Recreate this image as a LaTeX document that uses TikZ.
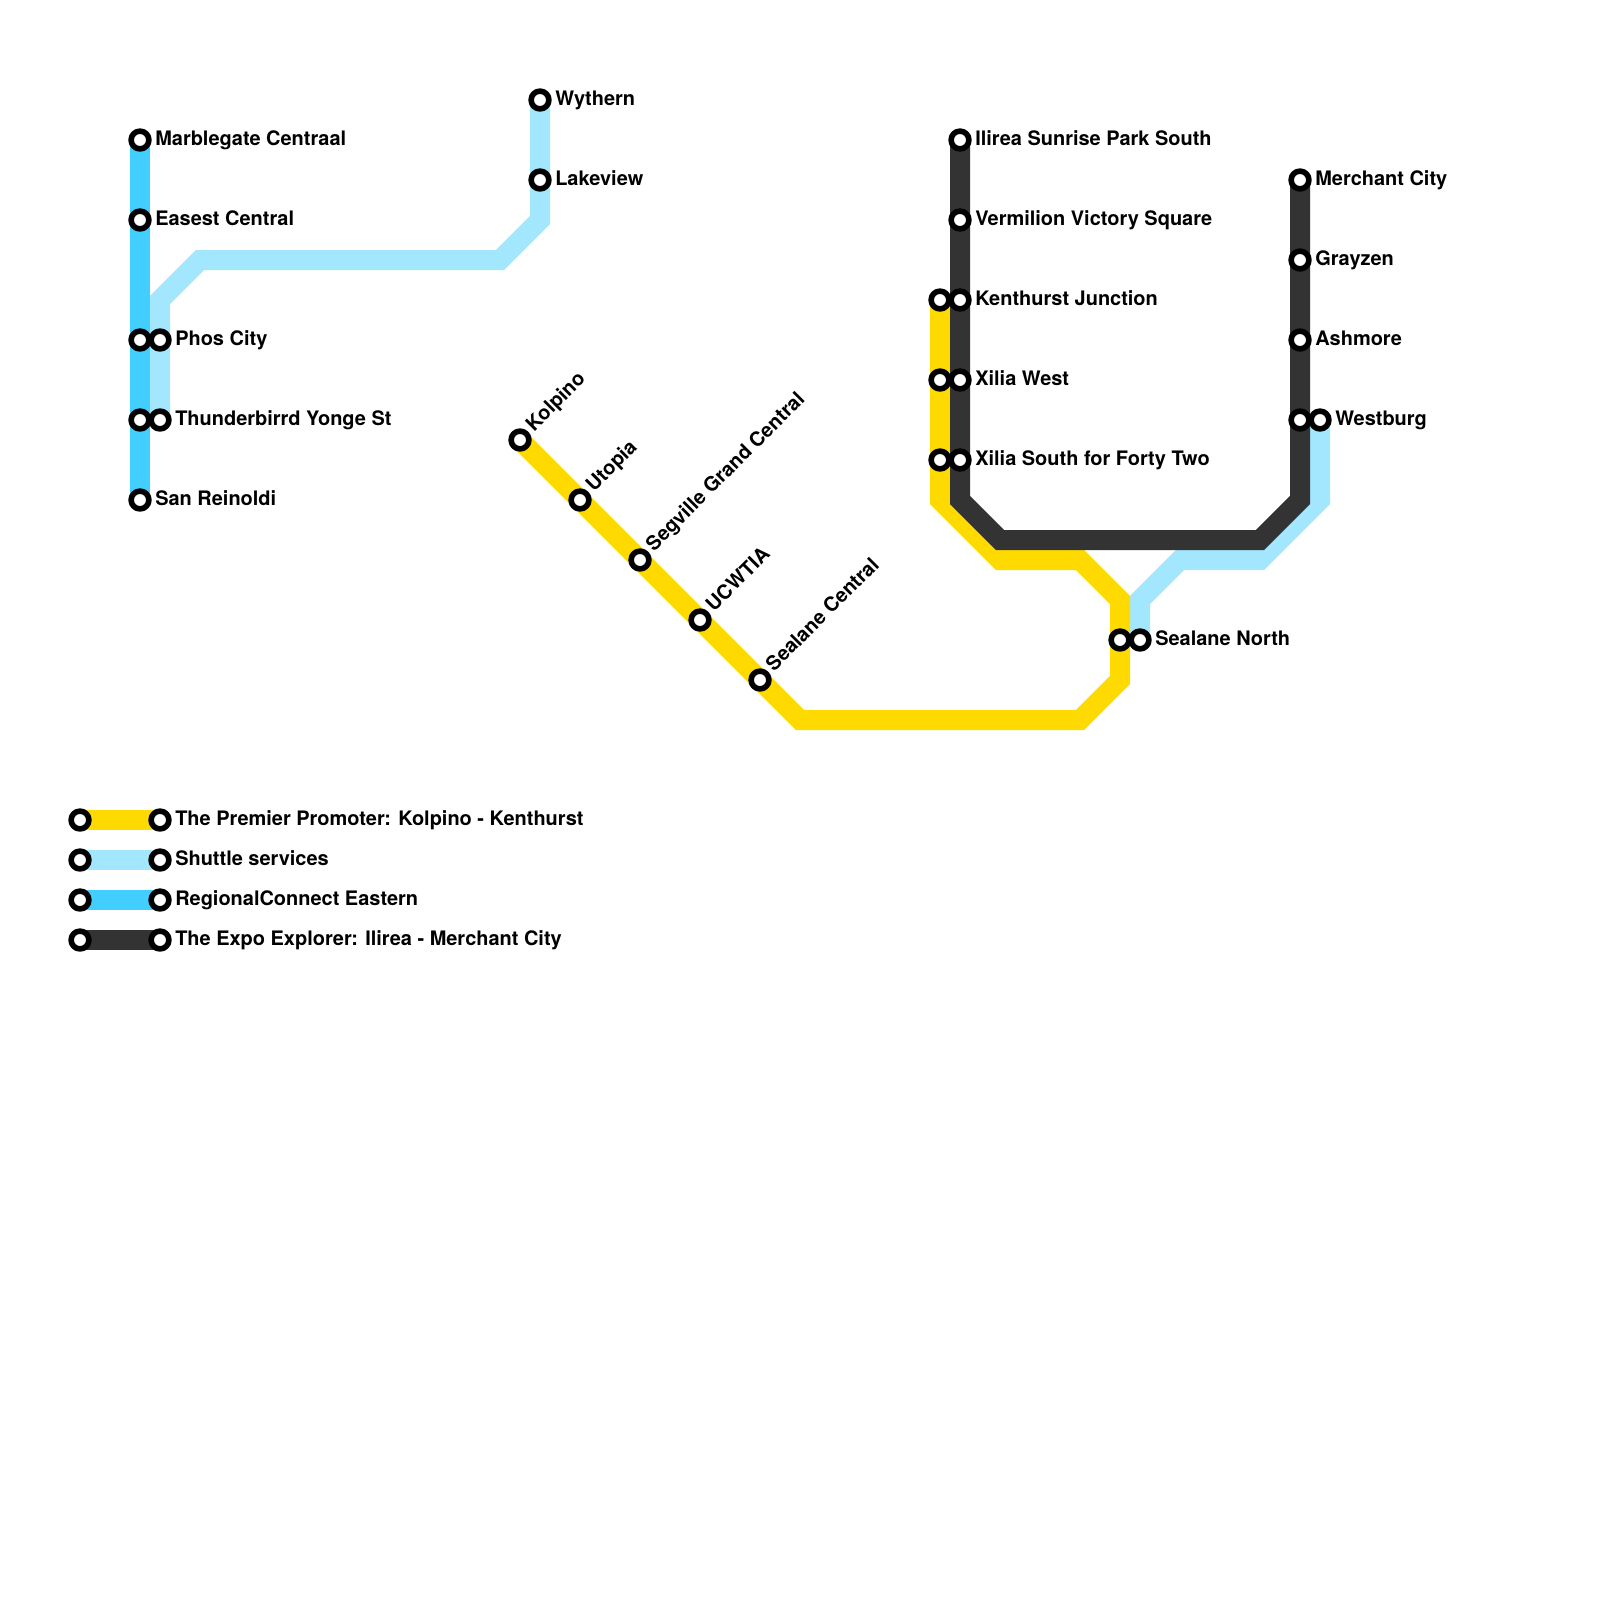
\documentclass[tikz,border=0pt]{standalone}
\usepackage{fontspec}
\setmainfont{TeX Gyre Heros}
\usetikzlibrary{backgrounds}

\begin{document}
\begin{tikzpicture}[
		x=5mm,
		y=-5mm,
		line join=round,
		stop/.style={
			circle,
			draw=black,
			fill=white,
			line width=1.4mm,
			minimum size=4.45mm,
			inner sep=0pt
		},
		stopname/.style={
			anchor=base west,
			inner sep=0pt,
			font=\fontsize{14.2}{17}\selectfont\bfseries
		},
		slant/.style={
			stopname,
			rotate=45
		},
		premier/.style={draw={rgb,255:red,255;green,218;blue,0},line width=5mm},
		shuttle/.style={draw={rgb,255:red,163;green,231;blue,255},line width=5mm},
		regional/.style={draw={rgb,255:red,66;green,207;blue,255},line width=5mm},
		expo/.style={draw={rgb,255:red,51;green,51;blue,51},line width=5mm}
		]
		
		% page
		\useasboundingbox (0,0) rectangle (80,80);
		
		% regional stops
		\node[stop] (marble) at (7, 7) {};
		\node[stop] (easest) at (7,11) {};
		\node[stop] (phosR)  at (7,17) {};
		\node[stop] (thunR)  at (7,21) {};
		\node[stop] (rein)   at (7,25) {};
		
		% shuttle stops
		\node[stop] (wyth)   at (27, 5) {};
		\node[stop] (lake)   at (27, 9) {};
		\node[stop] (phosS)  at ( 8,17) {};
		\node[stop] (thunS)  at ( 8,21) {};
		\node[stop] (west)   at (66,21) {};
		\node[stop] (nortS)  at (57,32) {};
		
		% premier stops
		\node[stop] (kolp)   at (26,22) {};
		\node[stop] (utop)   at (29,25) {};
		\node[stop] (segv)   at (32,28) {};
		\node[stop] (ucw)    at (35,31) {};
		\node[stop] (sealC)  at (38,34) {};
		\node[stop] (nortP)  at (56,32) {};
		\node[stop] (xsouP)  at (47,23) {};
		\node[stop] (xwesP)  at (47,19) {};
		\node[stop] (kentP)  at (47,15) {};
		
		% expo stops
		\node[stop] (ilir)   at (48, 7) {};
		\node[stop] (verm)   at (48,11) {};
		\node[stop] (kentE)  at (48,15) {};
		\node[stop] (xwesE)  at (48,19) {};
		\node[stop] (xsouE)  at (48,23) {};
		\node[stop] (merch)  at (65, 9) {};
		\node[stop] (gray)   at (65,13) {};
		\node[stop] (ashm)   at (65,17) {};
		\node[stop] (westE)  at (65,21) {};
		
		% legend stops
		\node[stop] (keyPa) at (4,41) {};
		\node[stop] (keyPb) at (8,41) {};
		\node[stop] (keySa) at (4,43) {};
		\node[stop] (keySb) at (8,43) {};
		\node[stop] (keyRa) at (4,45) {};
		\node[stop] (keyRb) at (8,45) {};
		\node[stop] (keyEa) at (4,47) {};
		\node[stop] (keyEb) at (8,47) {};
		
		% bends of the shuttle lines
		\coordinate (s1) at (27,11);
		\coordinate (s2) at (25,13);
		\coordinate (s3) at (10,13);
		\coordinate (s4) at ( 8,15);
		\coordinate (s5) at (66,25);
		\coordinate (s6) at (63,28);
		\coordinate (s7) at (59,28);
		\coordinate (s8) at (57,30);
		
		% bends of the premier line
		\coordinate (p1) at (40,36);
		\coordinate (p2) at (54,36);
		\coordinate (p3) at (56,34);
		\coordinate (p4) at (56,30);
		\coordinate (p5) at (54,28);
		\coordinate (p6) at (50,28);
		\coordinate (p7) at (47,25);
		
		% bends of the expo line
		\coordinate (e1) at (48,25);
		\coordinate (e2) at (50,27);
		\coordinate (e3) at (63,27);
		\coordinate (e4) at (65,25);
		
		% lines, under the stops
		\begin{scope}[on background layer]
			\draw[shuttle] (wyth.center) -- (lake.center) -- (s1) -- (s2) -- (s3) -- (s4) -- (phosS.center) -- (thunS.center);
			\draw[shuttle] (west.center) -- (s5) -- (s6) -- (s7) -- (s8) -- (nortS.center);
			\draw[regional] (marble.center) -- (easest.center) -- (phosR.center) -- (thunR.center) -- (rein.center);
			\draw[premier] (kolp.center) -- (utop.center) -- (segv.center) -- (ucw.center) -- (sealC.center) -- (p1) -- (p2) -- (p3) -- (nortP.center) -- (p4) -- (p5) -- (p6) -- (p7) -- (xsouP.center) -- (xwesP.center) -- (kentP.center);
			\draw[expo] (ilir.center) -- (verm.center) -- (kentE.center) -- (xwesE.center) -- (xsouE.center) -- (e1) -- (e2) -- (e3) -- (e4) -- (westE.center) -- (ashm.center) -- (gray.center) -- (merch.center);
			
			% legend lines
			\draw[premier]  (keyPa.center) -- (keyPb.center);
			\draw[shuttle]  (keySa.center) -- (keySb.center);
			\draw[regional] (keyRa.center) -- (keyRb.center);
			\draw[expo]     (keyEa.center) -- (keyEb.center);
		\end{scope}
		
		% labels
		\node[stopname] (tMarble) at (7.75, 7.27) {Marblegate Centraal};
		\node[stopname] (tEasest) at (7.75,11.27) {Easest Central};
		\node[stopname] (tPhos)   at (8.75,17.27) {Phos City};
		\node[stopname] (tThun)   at (8.75,21.27) {Thunderbirrd Yonge St};
		\node[stopname] (tRein)   at (7.75,25.27) {San Reinoldi};
		\node[stopname] (tWyth)   at (27.75,5.27) {Wythern};
		\node[stopname] (tLake)   at (27.75,9.27) {Lakeview};
		
		\node[slant] (tKolp)  at (26.7,21.62) {Kolpino};
		\node[slant] (tUtop)  at (29.7,24.62) {Utopia};
		\node[slant] (tSegv)  at (32.7,27.62) {Segville Grand Central};
		\node[slant] (tUcw)   at (35.7,30.62) {UCWTIA};
		\node[slant] (tSealC) at (38.7,33.62) {Sealane Central};
		
		\node[stopname] (tIlir)  at (48.75, 7.27) {Ilirea Sunrise Park South};
		\node[stopname] (tVerm)  at (48.75,11.27) {Vermilion Victory Square};
		\node[stopname] (tKent)  at (48.75,15.27) {Kenthurst Junction};
		\node[stopname] (tXwes)  at (48.75,19.27) {Xilia West};
		\node[stopname] (tXsou)  at (48.75,23.27) {Xilia South for Forty Two};
		\node[stopname] (tMerch) at (65.75, 9.27) {Merchant City};
		\node[stopname] (tGray)  at (65.75,13.27) {Grayzen};
		\node[stopname] (tAshm)  at (65.75,17.27) {Ashmore};
		\node[stopname] (tWest)  at (66.75,21.27) {Westburg};
		\node[stopname] (tNort)  at (57.75,32.27) {Sealane North};
		
		\node[stopname] (tKeyP) at (8.75,41.27) {The Premier Promoter: Kolpino - Kenthurst};
		\node[stopname] (tKeyS) at (8.75,43.27) {Shuttle services};
		\node[stopname] (tKeyR) at (8.75,45.27) {RegionalConnect Eastern};
		\node[stopname] (tKeyE) at (8.75,47.27) {The Expo Explorer: Ilirea - Merchant City};
	\end{tikzpicture}
\end{document}
